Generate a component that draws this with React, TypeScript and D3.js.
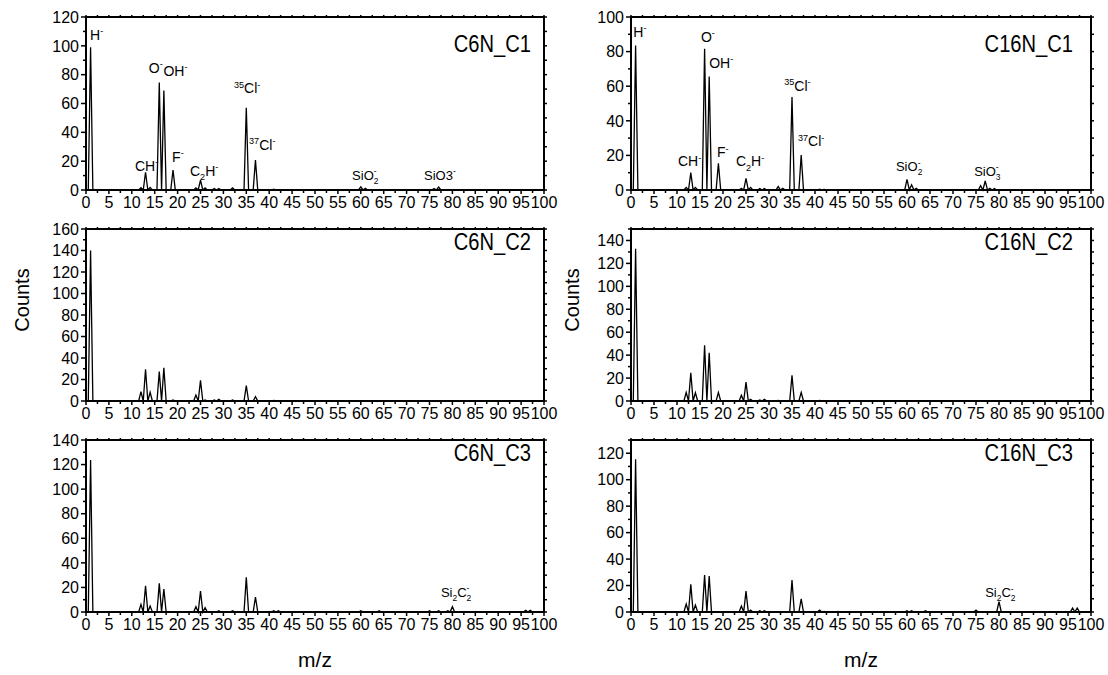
import React from 'react';
import * as d3 from 'd3';

// ---------- data (peak m/z and counts) ----------
const c6nC1Mz = [1, 12, 13, 14, 16, 17, 19, 24, 25, 26, 28, 29, 32, 35, 37, 41, 60, 61, 76, 77];
const c6nC1Counts = [99, 1.6, 12.3, 1.8, 74.5, 69, 13.9, 1.5, 6.9, 1.5, 1, 1, 1.5, 57, 20.8, 0.5, 2.2, 1.2, 1, 2];

const c6nC2Mz = [1, 12, 13, 14, 16, 17, 19, 24, 25, 26, 28, 29, 32, 35, 37, 41];
const c6nC2Counts = [140, 8.7, 29.5, 8, 27.3, 31, 1, 5.6, 19.2, 1, 1, 1.5, 1, 14.3, 4, 0.5];

const c6nC3Mz = [1, 12, 13, 14, 16, 17, 24, 25, 26, 29, 32, 35, 37, 41, 42, 60, 64, 75, 77, 79, 80, 96, 97];
const c6nC3Counts = [123.7, 6.2, 21.4, 4.9, 23.3, 18.7, 4.3, 17.1, 3.5, 1, 1, 28.2, 12.2, 1, 1, 1, 1, 1, 1, 1, 4.3, 1.3, 1.3];

const c16nC1Mz = [1, 12, 13, 14, 16, 17, 19, 24, 25, 26, 28, 29, 32, 33, 35, 37, 41, 42, 60, 61, 62, 76, 77, 78, 79];
const c16nC1Counts = [83.5, 1.5, 10, 1.5, 81.6, 65.6, 15.4, 1, 6.7, 1.5, 0.8, 0.8, 2, 1, 53.8, 20.2, 0.5, 0.3, 6.2, 3, 1, 2.5, 5.2, 1, 0.8];

const c16nC2Mz = [1, 12, 13, 14, 16, 17, 19, 24, 25, 26, 28, 29, 32, 35, 37, 41];
const c16nC2Counts = [132.8, 7.5, 24.6, 7.2, 48.7, 42, 7.5, 5, 16.5, 1.5, 1, 1.5, 0.5, 22.3, 7.5, 0.5];

const c16nC3Mz = [1, 12, 13, 14, 16, 17, 24, 25, 26, 28, 29, 35, 37, 41, 42, 45, 60, 61, 64, 75, 80, 96, 97];
const c16nC3Counts = [115.5, 6, 20.9, 5.3, 27.9, 27.2, 4.5, 15.8, 1.5, 1, 1, 24.2, 10, 1.5, 0.5, 0.5, 1, 1, 1, 1.5, 7.8, 3, 3];

const mzTicks = d3.range(0, 101, 5);
const panelTitles = ['C6N_C1', 'C6N_C2', 'C6N_C3', 'C16N_C1', 'C16N_C2', 'C16N_C3'];
const yMaxes = [120, 160, 140, 100, 150, 130];
const yTickMaxes = [120, 160, 140, 100, 140, 120];

type Part = [string, 'n' | 'sup' | 'sub' | 'supstack'];
type Label = { mz: number; v: number; parts: Part[]; size?: number };

const c6nC1Labels: Label[] = [
  { mz: 0.9, v: 104, parts: [['H', 'n'], ['-', 'sup']] },
  { mz: 13.7, v: 81, parts: [['O', 'n'], ['-', 'sup']] },
  { mz: 16.9, v: 79, parts: [['OH', 'n'], ['-', 'sup']] },
  { mz: 10.7, v: 13.2, parts: [['CH', 'n'], ['-', 'sup']] },
  { mz: 18.8, v: 19.4, parts: [['F', 'n'], ['-', 'sup']] },
  { mz: 22.7, v: 9.9, parts: [['C', 'n'], ['2', 'sub'], ['H', 'n'], ['-', 'sup']] },
  { mz: 32.3, v: 67, parts: [['35', 'sup'], ['Cl', 'n'], ['-', 'sup']] },
  { mz: 35.6, v: 27.7, parts: [['37', 'sup'], ['Cl', 'n'], ['-', 'sup']] },
  { mz: 58.1, v: 7.2, size: 13, parts: [['SiO', 'n'], ['2', 'sub'], ['-', 'supstack']] },
  { mz: 73.8, v: 7.2, size: 13, parts: [['SiO3', 'n'], ['-', 'sup']] },
];
const c6nC2Labels: Label[] = [];
const c6nC3Labels: Label[] = [
  { mz: 77.5, v: 12.4, size: 13, parts: [['Si', 'n'], ['2', 'sub'], ['C', 'n'], ['2', 'sub'], ['-', 'supstack']] },
];
const c16nC1Labels: Label[] = [
  { mz: 0.5, v: 88.5, parts: [['H', 'n'], ['-', 'sup']] },
  { mz: 15.2, v: 85.6, parts: [['O', 'n'], ['-', 'sup']] },
  { mz: 17.0, v: 70.6, parts: [['OH', 'n'], ['-', 'sup']] },
  { mz: 33.3, v: 57.4, parts: [['35', 'sup'], ['Cl', 'n'], ['-', 'sup']] },
  { mz: 36.3, v: 25.2, parts: [['37', 'sup'], ['Cl', 'n'], ['-', 'sup']] },
  { mz: 10.2, v: 13.6, parts: [['CH', 'n'], ['-', 'sup']] },
  { mz: 18.7, v: 18.8, parts: [['F', 'n'], ['-', 'sup']] },
  { mz: 22.8, v: 13.6, parts: [['C', 'n'], ['2', 'sub'], ['H', 'n'], ['-', 'sup']] },
  { mz: 57.6, v: 10.8, size: 13, parts: [['SiO', 'n'], ['2', 'sub'], ['-', 'supstack']] },
  { mz: 74.6, v: 8.3, size: 13, parts: [['SiO', 'n'], ['3', 'sub'], ['-', 'supstack']] },
];
const c16nC2Labels: Label[] = [];
const c16nC3Labels: Label[] = [
  { mz: 77.0, v: 11.3, size: 13, parts: [['Si', 'n'], ['2', 'sub'], ['C', 'n'], ['2', 'sub'], ['-', 'supstack']] },
];

const FONT = "Arial, 'Liberation Sans', sans-serif";

function RichText({ x, y, parts, size }: { x: number; y: number; parts: Part[]; size: number }) {
  let cur = 0;
  let prevSmallWidth = 0;
  const small = size * 0.65;
  return (
    <text x={x} y={y} fontSize={size} fontFamily={FONT} fill="#000">
      {parts.map(([t, k], i) => {
        const target = k === 'sup' || k === 'supstack' ? -size * 0.42 : k === 'sub' ? size * 0.3 : 0;
        const dy = target - cur;
        cur = target;
        const fs = k === 'n' ? size : small;
        const dx = k === 'supstack' ? -prevSmallWidth : 0;
        prevSmallWidth = k === 'n' ? 0 : t.length * small * 0.556;
        return (
          <tspan key={i} dy={dy} dx={dx} fontSize={fs}>
            {t}
          </tspan>
        );
      })}
    </text>
  );
}

type PanelProps = {
  x0: number; x1: number; y0: number; y1: number;
  yMax: number; yTickMax: number;
  mz: number[]; counts: number[];
  title: string; titleY: number; titleInset: number;
  labels: Label[];
};

function Panel(p: PanelProps) {
  const x = d3.scaleLinear().domain([0, 100]).range([p.x0, p.x1]);
  const y = d3.scaleLinear().domain([0, p.yMax]).range([p.y1, p.y0]);
  const pts: [number, number][] = [[0, 0]];
  p.mz.forEach((m, i) => {
    pts.push([m - 0.5, 0], [m, p.counts[i]], [m + 0.5, 0]);
  });
  pts.push([100, 0]);
  pts.sort((a, b) => a[0] - b[0]);
  const line = d3.line<[number, number]>().x((d) => x(d[0])).y((d) => y(Math.max(0, d[1])));
  const yMajor = d3.range(0, p.yTickMax + 1, 20);
  const yMinor = d3.range(10, p.yMax + 0.1, 20);
  const xMinor = d3.range(2.5, 100, 5);
  const titleWidth = p.title.length * 11.2 + 10;
  return (
    <g>
      <path d={line(pts) || ''} fill="none" stroke="#000" strokeWidth={1.3} strokeLinejoin="miter" />
      <rect x={p.x0} y={p.y0} width={p.x1 - p.x0} height={p.y1 - p.y0} fill="none" stroke="#000" strokeWidth={2} />
      {yMajor.map((v) => (
        <line key={'ly' + v} x1={p.x0 - 5} x2={p.x0} y1={y(v)} y2={y(v)} stroke="#000" strokeWidth={1.5} />
      ))}
      {yMinor.map((v) => (
        <line key={'lym' + v} x1={p.x0 - 3} x2={p.x0} y1={y(v)} y2={y(v)} stroke="#000" strokeWidth={1.5} />
      ))}
      {yMajor.concat(yMinor).map((v) => (
        <line key={'ry' + v} x1={p.x1} x2={p.x1 + 3} y1={y(v)} y2={y(v)} stroke="#000" strokeWidth={1.5} />
      ))}
      {mzTicks.map((v) => (
        <line key={'bx' + v} x1={x(v)} x2={x(v)} y1={p.y1} y2={p.y1 + 4} stroke="#000" strokeWidth={1.5} />
      ))}
      {xMinor.map((v) => (
        <line key={'bxm' + v} x1={x(v)} x2={x(v)} y1={p.y1} y2={p.y1 + 3} stroke="#000" strokeWidth={1.5} />
      ))}
      {mzTicks.concat(xMinor).map((v) => (
        <line key={'tx' + v} x1={x(v)} x2={x(v)} y1={p.y0 - 2} y2={p.y0} stroke="#000" strokeWidth={1.5} />
      ))}
      {yMajor.map((v) => (
        <text key={'yl' + v} x={p.x0 - 7} y={y(v)} dy="0.36em" textAnchor="end" fontSize={16} fontFamily={FONT} fill="#000">
          {v}
        </text>
      ))}
      {mzTicks.map((v) => (
        <text key={'xl' + v} x={x(v)} y={p.y1 + 18} textAnchor="middle" fontSize={16} fontFamily={FONT} fill="#000">
          {v}
        </text>
      ))}
      <text
        x={p.x1 - p.titleInset - titleWidth}
        y={p.titleY}
        fontSize={23}
        fontFamily={FONT}
        fill="#000"
        textLength={titleWidth}
        lengthAdjust="spacingAndGlyphs"
      >
        {p.title}
      </text>
      {p.labels.map((l, i) => (
        <RichText key={i} x={x(l.mz)} y={y(l.v)} parts={l.parts} size={l.size || 14} />
      ))}
    </g>
  );
}

export default function App() {
  const cols = [
    { x0: 86, x1: 544, inset: 13 },
    { x0: 631, x1: 1091, inset: 18 },
  ];
  const rows = [
    { y0: 17, y1: 190, titleY: 52 },
    { y0: 229, y1: 401, titleY: 250 },
    { y0: 440, y1: 612, titleY: 461 },
  ];
  const series = [
    [c6nC1Mz, c6nC1Counts, c6nC1Labels],
    [c6nC2Mz, c6nC2Counts, c6nC2Labels],
    [c6nC3Mz, c6nC3Counts, c6nC3Labels],
    [c16nC1Mz, c16nC1Counts, c16nC1Labels],
    [c16nC2Mz, c16nC2Counts, c16nC2Labels],
    [c16nC3Mz, c16nC3Counts, c16nC3Labels],
  ] as [number[], number[], Label[]][];
  return (
    <svg width={1108} height={675} style={{ position: 'absolute', left: 0, top: 0, background: '#fff' }}>
      <rect x={0} y={0} width={1108} height={675} fill="#fff" />
      {series.map(([mz, counts, labels], i) => {
        const c = cols[Math.floor(i / 3)];
        const r = rows[i % 3];
        return (
          <Panel
            key={i}
            x0={c.x0} x1={c.x1} y0={r.y0} y1={r.y1}
            yMax={yMaxes[i]} yTickMax={yTickMaxes[i]}
            mz={mz} counts={counts}
            title={panelTitles[i]} titleY={r.titleY} titleInset={c.inset}
            labels={labels}
          />
        );
      })}
      <text transform="translate(29,300) rotate(-90)" textAnchor="middle" fontSize={20} fontFamily={FONT}>Counts</text>
      <text transform="translate(579,300) rotate(-90)" textAnchor="middle" fontSize={20} fontFamily={FONT}>Counts</text>
      <text x={315} y={667} textAnchor="middle" fontSize={21} fontFamily={FONT}>m/z</text>
      <text x={861} y={667} textAnchor="middle" fontSize={21} fontFamily={FONT}>m/z</text>
    </svg>
  );
}
